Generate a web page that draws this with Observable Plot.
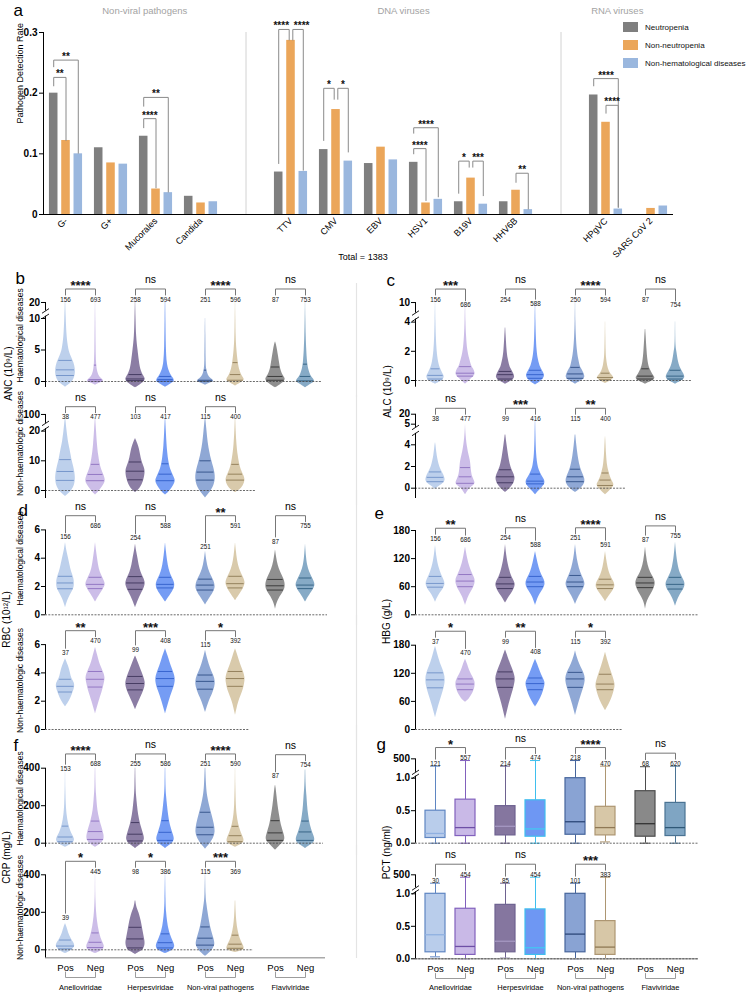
<!DOCTYPE html>
<html>
<head>
<meta charset="utf-8">
<script src="https://cdn.jsdelivr.net/npm/d3@7"></script>
<script src="https://cdn.jsdelivr.net/npm/@observablehq/plot@0.6"></script>
<style>
html,body{margin:0;padding:0;background:#fff;}
#fig{position:relative;width:748px;height:992px;overflow:hidden;background:#fff;font-family:"Liberation Sans",Arial,sans-serif;}
.leg-swatch{height:18px!important;padding:0!important;margin:0!important;display:flex!important;align-items:center!important;}
.leg-swatch svg{margin-right:7px!important;}
</style>
</head>
<body>
<div id="fig"></div>
<script>
// ================= Panel a data =================
const aCategories = ["G-","G+","Mucorales","Candida","TTV","CMV","EBV","HSV1","B19V","HHV6B","HPgVC","SARS CoV 2"];
const aCategoryGroup = [0,0,0,0,1,1,1,1,1,1,2,2];
const aGroupTitles = ["Non-viral pathogens","DNA viruses","RNA viruses"];
const aSeries = ["Neutropenia","Non-neutropenia","Non-hematological diseases"];
const aColors = ["#7f7f7f","#eba65a","#9ab7de"];
const aNeutropenia      = [0.200,0.110,0.129,0.030,0.070,0.107,0.084,0.086,0.021,0.021,0.197,0];
const aNonNeutropenia   = [0.122,0.085,0.042,0.019,0.287,0.173,0.111,0.019,0.060,0.040,0.152,0.010];
const aNonHematological = [0.100,0.083,0.036,0.021,0.071,0.088,0.090,0.025,0.017,0.008,0.009,0.014];
const aYTicks = [0,0.1,0.2,0.3];
const aTotal = 1383;
const aBracketCat  = ["G-","G-","Mucorales","Mucorales","TTV","TTV","CMV","CMV","HSV1","HSV1","B19V","B19V","HHV6B","HPgVC","HPgVC"];
const aBracketPair = [[0,1],[0,2],[0,1],[0,2],[0,1],[1,2],[0,1],[1,2],[0,1],[0,2],[0,1],[1,2],[1,2],[0,2],[1,2]];
const aBracketTop  = [0.226,0.2545,0.158,0.193,0.305,0.305,0.208,0.208,0.1086,0.143,0.088,0.088,0.068,0.224,0.180];
const aBracketEnds = [[0.212,0.122],[0.2435,0.101],[0.143,0.044],[0.1785,0.037],[0.084,0.2876],[0.2876,0.073],[0.122,0.190],[0.190,0.103],[0.100,0.023],[0.134,0.029],[0.035,0.078],[0.078,0.031],[0.053,0.009],[0.212,0.012],[0.167,0.012]];
const aBracketSig  = ["**","**","****","**","****","****","*","*","****","****","*","***","**","****","****"];

// ================= Panels b-g shared =================
const groupNames = ["Anelloviridae","Herpesviridae","Non-viral pathogens","Flaviviridae"];
const statusNames = ["Pos","Neg"];
const violinFill = ["#b9cdeb","#c9b9e7","#85769f","#6e97f3","#89a3d3","#d7c7a7","#898989","#7fa5c3"];
const violinLine = ["#6b8dc5","#8a6cbd","#3b3158","#2e5cc8","#2a4a82","#8a7650","#2e2e2e","#2b5a7d"];
const boxStroke  = ["#5f86c2","#8261bd","#6e6290","#3fbfee","#46659c","#ad9672","#4d4d4d","#4a7393"];
const boxMedian  = ["#8fb0e0","#6e4fa6","#a598c2","#45c6f2","#2c4778","#8f7855","#333333","#2f5877"];

// ---- b: ANC (10^9/L) ----
const ancHaemN = [156,693,258,594,251,596,87,753];
const ancHaemSig = ["****","ns","****","ns"];
const ancHaemLabelAt = [20,20,20,20,20,20,20,20];
const ancHaemQuartiles = [[0.95,1.85,3.35],[0.05,0.3,2.6],[0.15,0.4,1.1],[0.05,0.3,0.8],[0.05,0.2,1.8],[0.2,1.1,3.0],[0.2,0.8,2.3],[0.1,0.8,2.75]];
const ancHaemShape = [
 [[-0.9,0],[-0.5,0.35],[0,0.75],[1,1],[2,1],[3,0.85],[4,0.55],[5,0.32],[7,0.15],[10,0.07],[20,0.02]],
 [[-0.6,0],[-0.2,0.55],[0.1,0.9],[0.5,0.55],[1,0.3],[2,0.15],[3,0.1],[5,0.06],[10,0.03],[20,0.01]],
 [[-1,0],[-0.5,0.5],[0,0.95],[0.5,1],[1,0.75],[2,0.5],[3,0.4],[5,0.25],[7,0.1],[10,0.05],[20,0.015]],
 [[-0.9,0],[-0.4,0.5],[0,0.95],[0.5,0.8],[1,0.55],[2,0.28],[3,0.16],[5,0.08],[10,0.04],[20,0.02]],
 [[-0.6,0],[-0.2,0.6],[0.1,0.9],[0.5,0.5],[1,0.25],[2,0.1],[3,0.06],[8,0.03],[10,0.01]],
 [[-0.7,0],[-0.2,0.6],[0.2,0.9],[0.5,0.85],[1,0.6],[2,0.38],[3,0.27],[5,0.13],[7,0.06],[10,0.03],[20,0.01]],
 [[-1,0],[-0.5,0.5],[0,0.95],[0.5,1],[1,0.72],[2,0.5],[3,0.4],[4,0.3],[5,0.2],[6,0.08],[6.3,0]],
 [[-1,0],[-0.4,0.55],[0,1],[0.5,0.72],[1,0.5],[2,0.3],[3,0.2],[5,0.12],[7,0.07],[10,0.03],[20,0.01]]
];
const ancNonN = [38,477,103,417,115,400];
const ancNonSig = ["ns","ns","ns"];
const ancNonLabelAt = [23,23,23,23,23,23];
const ancNonQuartiles = [[3.4,6.4,10.4],[3.3,5.4,8.8],[3.6,6.5,9.6],[3.3,5.5,9.0],[3.5,6.2,10.0],[3.5,5.5,8.8]];
const ancNonShape = [
 [[-2,0],[-1,0.35],[0,0.65],[2,0.95],[4,1],[6,0.95],[8,0.82],[10,0.66],[12,0.55],[14,0.45],[16,0.3],[20,0.15],[40,0.03]],
 [[-1.5,0],[-0.5,0.3],[1,0.65],[2.5,0.95],[3.5,1],[5,0.88],[7,0.6],[9,0.45],[12,0.3],[15,0.2],[20,0.1],[40,0.02]],
 [[-0.7,0],[0,0.3],[2,0.7],[4,0.88],[6.5,1],[8,0.85],[10,0.62],[12,0.5],[14,0.4],[16,0.2],[17.5,0]],
 [[-1.5,0],[-0.5,0.35],[1,0.7],[2.5,0.95],[3.5,1],[5,0.8],[7,0.5],[10,0.3],[15,0.15],[20,0.08],[40,0.02]],
 [[-2.5,0],[-1,0.35],[0,0.6],[2,0.9],[4,1],[6,0.95],[8,0.8],[10,0.62],[13,0.42],[16,0.26],[20,0.15],[40,0.03]],
 [[-0.7,0],[0,0.4],[1.5,0.8],[3.5,1],[5,0.85],[7,0.55],[9,0.4],[12,0.25],[15,0.15],[20,0.06],[40,0.02]]
];

// ---- c: ALC (10^9/L) ----
const alcHaemN = [156,686,254,588,250,594,87,754];
const alcHaemSig = ["***","ns","****","ns"];
const alcHaemLabelAt = [10,4.3,10,5.8,10,10,10,4.1];
const alcHaemQuartiles = [[0.1,0.35,0.8],[0.3,0.5,0.95],[0.1,0.4,0.62],[0.15,0.4,0.7],[0.15,0.45,0.9],[0.05,0.2,0.5],[0.1,0.3,0.8],[0.1,0.3,0.7]];
const alcHaemShape = [
 [[-0.25,0],[-0.1,0.5],[0.1,0.85],[0.3,0.9],[0.5,0.7],[0.8,0.5],[1.2,0.3],[2,0.15],[3,0.08],[4,0.04],[10,0.01]],
 [[-0.25,0],[0,0.4],[0.3,0.9],[0.5,1],[0.8,0.8],[1,0.6],[1.5,0.4],[2,0.22],[3,0.1],[4,0.04],[10,0.01]],
 [[-0.25,0],[-0.05,0.6],[0.2,1],[0.5,0.8],[0.8,0.55],[1,0.42],[1.5,0.25],[2,0.15],[3,0.07],[3.6,0.02]],
 [[-0.3,0],[-0.05,0.6],[0.3,1],[0.6,0.75],[1,0.42],[1.5,0.26],[2,0.15],[3,0.08],[4,0.04],[10,0.01]],
 [[-0.25,0],[0,0.7],[0.2,1],[0.5,0.85],[0.8,0.6],[1,0.45],[1.5,0.3],[2,0.18],[3,0.08],[4,0.03],[10,0.01]],
 [[-0.2,0],[0,0.6],[0.2,0.9],[0.4,0.6],[0.6,0.38],[1,0.2],[1.5,0.1],[2,0.06],[3,0.03],[4,0.01]],
 [[-0.25,0],[0,0.85],[0.2,1],[0.4,0.72],[0.8,0.42],[1.2,0.26],[2,0.15],[3,0.07],[3.5,0.02]],
 [[-0.25,0],[0,0.75],[0.2,1],[0.5,0.8],[0.8,0.52],[1.2,0.3],[2,0.13],[2.3,0.05],[3,0.02],[4,0.01]]
];
const alcNonN = [38,477,99,416,115,400];
const alcNonSig = ["ns","***","**"];
const alcNonLabelAt = [8.6,8.6,8.6,8.6,8.6,8.6];
const alcNonQuartiles = [[0.6,1.0,1.5],[0.45,1.05,1.9],[0.5,1.05,1.7],[0.4,0.65,1.3],[0.6,1.05,1.75],[0.25,0.75,1.4]];
const alcNonShape = [
 [[-0.1,0],[0.2,0.4],[0.5,0.9],[0.8,1],[1.2,0.85],[1.6,0.6],[2,0.4],[3,0.15],[4,0.05],[4.2,0]],
 [[-0.6,0],[0,0.4],[0.3,0.9],[0.5,1],[1,0.7],[1.5,0.6],[2,0.55],[2.5,0.5],[3,0.36],[3.7,0.2],[4.8,0.05],[5,0]],
 [[-0.4,0],[0,0.5],[0.5,0.9],[1,1],[1.5,0.75],[2,0.5],[3,0.3],[4,0.15],[4.9,0.03]],
 [[-0.6,0],[0,0.6],[0.4,1],[0.8,0.9],[1.2,0.6],[1.6,0.4],[2,0.25],[3,0.1],[4.9,0.04],[12,0.01]],
 [[-0.4,0],[0,0.6],[0.5,1],[1,0.9],[1.5,0.65],[2,0.45],[3,0.25],[4,0.12],[4.9,0.03]],
 [[-0.6,0],[0,0.7],[0.3,0.9],[0.6,0.7],[1,0.5],[1.5,0.35],[2,0.2],[3,0.1],[4.5,0.03],[4.8,0]]
];

// ---- d: RBC (10^12/L) ----
const rbcHaemN = [156,686,254,588,251,591,87,755];
const rbcHaemSig = ["ns","ns","**","ns"];
const rbcHaemLabelAt = [5.27,6.05,5.2,6.05,4.57,6.05,4.97,6.05];
const rbcHaemQuartiles = [[1.84,2.25,2.72],[1.85,2.15,2.65],[1.8,2.25,2.7],[1.9,2.15,2.65],[1.75,2.1,2.52],[1.9,2.2,2.72],[1.75,2.05,2.5],[1.85,2.1,2.6]];
const rbcHaemShape = [
 [[0.5,0],[1.2,0.3],[1.8,0.85],[2.2,0.9],[2.6,0.85],[3,0.6],[3.5,0.45],[4,0.3],[4.6,0.1],[5.1,0]],
 [[0.9,0],[1.5,0.5],[2,0.95],[2.2,1],[2.6,0.75],[3,0.45],[3.5,0.3],[4,0.2],[4.6,0.08],[5.1,0]],
 [[0.5,0],[1,0.25],[1.5,0.6],[2,0.95],[2.3,1],[2.7,0.75],[3,0.55],[3.5,0.35],[4,0.25],[4.5,0.1],[5,0]],
 [[0.9,0],[1.5,0.6],[2,1],[2.4,0.85],[2.8,0.55],[3.2,0.35],[3.8,0.2],[4.5,0.08],[5.1,0]],
 [[0.7,0],[1.2,0.45],[1.7,0.9],[2,1],[2.4,0.85],[2.8,0.55],[3.2,0.3],[3.8,0.12],[4.5,0]],
 [[1,0],[1.5,0.5],[2,0.9],[2.3,1],[2.7,0.75],[3.2,0.4],[3.8,0.2],[4.5,0.08],[5.1,0]],
 [[0.4,0],[1,0.2],[1.5,0.7],[1.9,1],[2.3,0.95],[2.6,0.8],[3,0.5],[3.5,0.25],[4,0.12],[4.6,0]],
 [[0.9,0],[1.5,0.5],[2,1],[2.3,0.9],[2.6,0.7],[3,0.4],[3.5,0.2],[4,0.1],[5,0]]
];
const rbcNonN = [37,470,99,408,115,392];
const rbcNonSig = ["**","***","*"];
const rbcNonLabelAt = [5.21,6.03,5.44,6.03,5.77,6.03];
const rbcNonQuartiles = [[2.65,3.05,3.55],[3.0,3.55,4.1],[2.8,3.25,3.75],[3.05,3.6,4.1],[2.85,3.4,3.85],[3.05,3.6,4.1]];
const rbcNonShape = [
 [[1.6,0],[2,0.4],[2.5,0.7],[3,0.95],[3.3,0.9],[3.6,0.6],[4,0.5],[4.5,0.3],[5,0]],
 [[1.1,0],[2,0.35],[2.7,0.7],[3.2,0.85],[3.6,1],[4,0.85],[4.5,0.5],[5,0.3],[5.8,0]],
 [[1.4,0],[2,0.35],[2.6,0.75],[3,0.95],[3.3,1],[3.7,0.85],[4.2,0.55],[4.7,0.3],[5.2,0]],
 [[1.1,0],[2,0.35],[2.7,0.7],[3.2,0.95],[3.6,1],[4,0.85],[4.5,0.55],[5,0.35],[5.7,0]],
 [[1.2,0],[2,0.35],[2.5,0.7],[3,0.95],[3.4,1],[3.8,0.85],[4.3,0.5],[5,0.2],[5.6,0]],
 [[1,0],[2,0.3],[2.7,0.75],[3.2,0.9],[3.6,1],[4.1,0.8],[4.6,0.5],[5.2,0.25],[5.7,0]]
];

// ---- e: HBG (g/L) ----
const hbgHaemN = [156,686,254,588,251,591,87,755];
const hbgHaemSig = ["**","ns","****","ns"];
const hbgHaemLabelAt = [156,154,157,143,157,143,154,161];
const hbgHaemQuartiles = [[59,67,82],[60,72,86],[56,66,80],[60,70,82],[60,70,84],[56,64,76],[58,68,80],[55,65,80]];
const hbgHaemShape = [
 [[27,0],[45,0.4],[55,0.8],[65,1],[75,0.85],[85,0.6],[100,0.35],[120,0.15],[148,0]],
 [[20,0],[40,0.3],[55,0.75],[65,0.95],[75,1],[85,0.75],[100,0.45],[120,0.2],[145,0]],
 [[25,0],[40,0.4],[50,0.75],[60,0.95],[67,1],[80,0.65],[95,0.4],[120,0.15],[150,0]],
 [[20,0],[40,0.3],[55,0.8],[65,1],[75,0.9],[85,0.6],[100,0.35],[120,0.15],[135,0]],
 [[22,0],[40,0.35],[55,0.8],[65,1],[75,0.85],[90,0.5],[110,0.25],[130,0.1],[150,0]],
 [[28,0],[40,0.35],[52,0.8],[62,1],[72,0.8],[85,0.45],[100,0.25],[120,0.1],[135,0]],
 [[12,0],[30,0.15],[45,0.6],[60,0.95],[70,1],[80,0.8],[90,0.5],[105,0.25],[125,0.1],[145,0]],
 [[18,0],[35,0.25],[50,0.7],[62,1],[72,0.9],[85,0.55],[100,0.3],[125,0.12],[155,0]]
];
const hbgNonN = [37,470,99,408,115,392];
const hbgNonSig = ["*","**","*"];
const hbgNonLabelAt = [181,157,181,159,181,180];
const hbgNonQuartiles = [[89,106,121],[85,97,108],[90,108,123],[85,98,110],[90,108,122],[85,97,118]];
const hbgNonShape = [
 [[25,0],[50,0.3],[70,0.6],[90,0.9],[105,1],[120,0.9],[135,0.6],[150,0.35],[178,0]],
 [[58,0],[65,0.4],[80,0.8],[90,0.95],[100,1],[110,0.8],[125,0.4],[140,0.2],[150,0]],
 [[22,0],[45,0.25],[65,0.5],[85,0.8],[100,0.95],[110,1],[125,0.8],[140,0.5],[155,0.25],[170,0]],
 [[48,0],[60,0.35],[75,0.7],[90,0.9],[100,1],[110,0.75],[125,0.45],[140,0.2],[150,0]],
 [[30,0],[55,0.3],[75,0.6],[90,0.85],[105,1],[115,0.95],[125,0.75],[140,0.4],[155,0.15],[168,0]],
 [[40,0],[55,0.4],[70,0.7],[85,0.9],[95,1],[110,0.8],[125,0.55],[145,0.25],[165,0]]
];

// ---- f: CRP (mg/L) ----
const crpHaemN = [153,688,255,586,251,590,87,754];
const crpHaemSig = ["****","ns","****","ns"];
const crpHaemLabelAt = [381,404,404,404,404,404,341,400];
const crpHaemQuartiles = [[8,33,91],[20,62,118],[12,48,110],[15,58,120],[45,85,165],[8,40,90],[15,55,120],[15,60,118]];
const crpHaemShape = [
 [[-22,0],[-8,0.5],[0,0.75],[20,1],[50,0.6],[100,0.3],[150,0.15],[200,0.08],[280,0.03],[380,0.01]],
 [[-22,0],[-8,0.4],[0,0.6],[20,0.9],[50,0.85],[100,0.55],[150,0.3],[200,0.18],[260,0.1],[300,0.05],[400,0.02]],
 [[-28,0],[-10,0.45],[0,0.7],[20,0.95],[50,0.8],[100,0.5],[150,0.3],[200,0.2],[250,0.1],[300,0.05],[400,0.02]],
 [[-28,0],[-10,0.45],[0,0.7],[20,0.95],[50,0.75],[100,0.45],[150,0.3],[200,0.2],[250,0.1],[300,0.04],[400,0.02]],
 [[-32,0],[-12,0.3],[0,0.5],[30,0.85],[60,1],[100,0.9],[150,0.65],[200,0.4],[250,0.2],[300,0.1],[400,0.03]],
 [[-22,0],[-8,0.5],[0,0.8],[20,0.9],[50,0.6],[100,0.3],[150,0.15],[200,0.08],[300,0.03],[400,0.01]],
 [[-38,0],[-15,0.4],[0,0.7],[20,1],[50,0.85],[100,0.55],[150,0.4],[200,0.25],[250,0.15],[300,0.05],[310,0]],
 [[-28,0],[-10,0.5],[0,0.8],[20,1],[50,0.75],[100,0.45],[150,0.3],[200,0.2],[250,0.15],[300,0.06],[390,0.02]]
];
const crpNonN = [39,445,98,386,115,369];
const crpNonSig = ["*","*","***"];
const crpNonLabelAt = [155,400,400,400,400,400];
const crpNonQuartiles = [[5,20,52],[12,40,90],[10,58,120],[10,38,85],[25,62,122],[8,30,78]];
const crpNonShape = [
 [[-20,0],[-8,0.45],[0,0.7],[20,1],[40,0.8],[60,0.55],[90,0.3],[120,0.15],[140,0]],
 [[-20,0],[-8,0.5],[0,0.8],[20,0.95],[50,0.6],[100,0.35],[150,0.2],[200,0.1],[260,0.05],[300,0.02],[400,0.01]],
 [[-25,0],[-10,0.5],[0,0.8],[30,1],[60,0.9],[100,0.75],[150,0.6],[200,0.35],[230,0.1],[260,0.03]],
 [[-20,0],[-8,0.5],[0,0.8],[20,1],[50,0.7],[100,0.35],[150,0.2],[200,0.1],[250,0.05],[400,0.01]],
 [[-35,0],[-15,0.45],[0,0.7],[25,1],[60,0.85],[100,0.6],[150,0.4],[200,0.25],[250,0.12],[280,0.05],[400,0.01]],
 [[-15,0],[-5,0.6],[0,0.9],[20,0.85],[50,0.5],[100,0.25],[150,0.12],[200,0.06],[260,0.02]]
];

// ---- g: PCT (ng/ml) box plots: [min, q1, median, q3, max] ----
const pctHaemN = [121,557,214,474,218,470,68,620];
const pctHaemSig = ["*","ns","****","ns"];
const pctHaemBox = [[0,0.08,0.15,0.5,211],[0,0.11,0.24,0.67,433],[0,0.12,0.26,0.57,211],[0,0.1,0.22,0.66,433],[0,0.13,0.33,1.0,433],[0.02,0.12,0.24,0.56,211],[0,0.1,0.3,0.8,190],[0,0.11,0.24,0.62,211]];
const pctNonN = [30,454,85,454,101,383];
const pctNonSig = ["ns","ns","***"];
const pctNonBox = [[0.03,0.1,0.37,1.0,170],[0,0.06,0.19,0.77,406],[0.01,0.1,0.27,0.83,170],[0,0.06,0.17,0.76,406],[0,0.1,0.38,1.0,170],[0,0.06,0.18,0.58,406]];

// ================= Rendering =================
const FONT = '"Liberation Sans", Arial, Helvetica, sans-serif';
const STYLE = `font-family:${FONT};font-size:10px;background:none;overflow:visible;color:#000;`;
const fig = document.getElementById("fig");
function place(el, left, top) {
  el.style.position = "absolute";
  el.style.left = left + "px";
  el.style.top = top + "px";
  fig.appendChild(el);
}

// ---------- Panel a ----------
(function panelA() {
  const slot = i => i + aCategoryGroup[i];
  const center = i => slot(i) + 0.5;
  const step = 0.273, half = 0.095;
  const seriesVals = [aNeutropenia, aNonNeutropenia, aNonHematological];
  const bars = seriesVals.flatMap((vals, j) => vals.map((v, i) => ({x: center(i) + (j - 1) * step, v, fill: aColors[j]})));
  const idx = new Map(aCategories.map((c, i) => [c, i]));
  const pts = [], lbl = [];
  aBracketCat.forEach((c, b) => {
    const i = idx.get(c);
    const [s1, s2] = aBracketPair[b];
    const has = (p, q) => aBracketCat.some((c2, b2) => c2 === c && aBracketPair[b2][0] === p && aBracketPair[b2][1] === q);
    let x1 = center(i) + (s1 - 1) * step, x2 = center(i) + (s2 - 1) * step;
    let shift = 0;
    if (s1 === 0 && s2 === 1 && has(1, 2)) { x2 -= 0.04; if (aBracketSig[b].length > 3) shift = -0.06; }
    if (s1 === 1 && s2 === 2 && has(0, 1)) { x1 += 0.04; if (aBracketSig[b].length > 3) shift = 0.08; }
    const top = aBracketTop[b], [e1, e2] = aBracketEnds[b];
    pts.push({b, x: x1, y: e1}, {b, x: x1, y: top}, {b, x: x2, y: top}, {b, x: x2, y: e2});
    lbl.push({x: (x1 + x2) / 2 + shift, y: top, text: aBracketSig[b]});
  });
  const tickPos = aCategories.map((c, i) => center(i));
  const tickName = new Map(tickPos.map((p, i) => [p, aCategories[i]]));
  const dividers = [1, 2].map(g => slot(aCategoryGroup.indexOf(g)) - 0.5);
  const spans = [[0, dividers[0]], [dividers[0], dividers[1]], [dividers[1], 14]];
  const titleX = spans.map(([a, b]) => (a + b) / 2);
  const svg = Plot.plot({
    width: 748, height: 265,
    marginTop: 32, marginBottom: 51, marginLeft: 43, marginRight: 75,
    style: STYLE,
    x: {domain: [0, 14], axis: null},
    y: {domain: [0, 0.3], axis: null},
    color: {type: "identity"},
    marks: [
      Plot.ruleX(dividers, {y1: 0, y2: 0.3, stroke: "#d2d2d2", strokeWidth: 1}),
      Plot.rect(bars, {x1: d => d.x - half, x2: d => d.x + half, y1: 0, y2: "v", fill: "fill"}),
      Plot.line(pts, {x: "x", y: "y", z: "b", stroke: "#8a8a8a", strokeWidth: 1}),
      Plot.text(lbl, {x: "x", y: "y", text: "text", lineAnchor: "bottom", fontSize: 10, fontWeight: "bold", fill: "#111"}),
      Plot.ruleX([0], {y1: 0, y2: 0.3, stroke: "#000"}),
      Plot.ruleY([0], {x1: 0, x2: 14, stroke: "#000"}),
      Plot.axisY({ticks: aYTicks, tickFormat: d => d === 0 ? "0" : d.toFixed(1), tickSize: 4, tickPadding: 2, fontSize: 10, fontWeight: "bold", label: null}),
      Plot.axisX({ticks: tickPos, tickFormat: p => tickName.get(p), tickRotate: -45, tickSize: 0, tickPadding: 5, fontSize: 9, label: null}),
      Plot.text(aGroupTitles, {x: (d, i) => titleX[i], text: d => d, frameAnchor: "top", dy: -25, fill: "#a3a3a3", fontSize: 9.5}),
      Plot.text([`Total = ${aTotal}`], {x: 7.1, text: d => d, frameAnchor: "bottom", dy: 45, fontSize: 9}),
      Plot.text(["Pathogen Detection Rate"], {text: d => d, frameAnchor: "left", dx: -23, rotate: -90, fontSize: 9}),
      Plot.text(["a"], {text: d => d, frameAnchor: "top-left", dx: -30, dy: -17, lineAnchor: "bottom", textAnchor: "start", fontSize: 17})
    ]
  });
  place(svg, 0, 0);
  const leg = Plot.legend({
    color: {type: "ordinal", domain: aSeries, range: aColors},
    columns: 1, swatchWidth: 15, swatchHeight: 10, className: "leg",
    style: {fontFamily: FONT, fontSize: "8px", color: "#111", margin: "0"}
  });
  leg.style.width = "130px";
  place(leg, 623, 18);
})();

// ---------- rows b-g ----------
function widthAt(pts, v, T) {
  const t = T(v);
  for (let j = 1; j < pts.length; j++) {
    const t0 = T(pts[j - 1][0]), t1 = T(pts[j][0]);
    if (t <= t1) {
      const f = t1 === t0 ? 0 : (t - t0) / (t1 - t0);
      return pts[j - 1][1] + Math.max(0, f) * (pts[j][1] - pts[j - 1][1]);
    }
  }
  return 0;
}

function makeRow(cfg) {
  const {left, top, height, p0, k, T} = cfg;
  const width = left === 0 ? 356 : 378;
  const tOf = px => (p0 - px) / k;
  const pxOf = t => p0 - k * t;
  const xOf = px => (px - left - 45) / 10 - 2;
  const cx = i => Math.floor(i / 2) * 7 + (i % 2) * 3;
  const marks = [];
  if (cfg.sep) marks.push(Plot.ruleX([xOf(356)], {y1: tOf(cfg.sep[0]), y2: tOf(cfg.sep[1]), stroke: "#e4e4e4", strokeWidth: 1.2}));
  if (cfg.shapes) {
    const area = cfg.shapes.flatMap((p, i) => p.map(([v, w]) => ({i, t: T(v), x1: cx(i) - w, x2: cx(i) + w, fill: violinFill[i]})));
    marks.push(Plot.areaX(area, {y: "t", x1: "x1", x2: "x2", z: "i", fill: "fill", fillOpacity: 0.95, curve: "basis"}));
    const q = cfg.quart.flatMap((qs, i) => qs.map(v => {
      const w = widthAt(cfg.shapes[i], v, T) * 0.9;
      return {t: T(v), x1: cx(i) - w, x2: cx(i) + w, stroke: violinLine[i]};
    }));
    marks.push(Plot.ruleY(q, {y: "t", x1: "x1", x2: "x2", stroke: "stroke", strokeWidth: 1, strokeOpacity: 0.85}));
  }
  if (cfg.boxes) {
    const bx = cfg.boxes.map(([mn, q1, md, q3, mx], i) => ({i, x: cx(i), mn: T(mn), q1: T(q1), md: T(md), q3: T(q3), mx: T(mx)}));
    const st = d => boxStroke[d.i];
    marks.push(
      Plot.ruleX(bx, {x: "x", y1: "mn", y2: "q1", stroke: st, strokeWidth: 1}),
      Plot.ruleX(bx, {x: "x", y1: "q3", y2: "mx", stroke: st, strokeWidth: 1}),
      Plot.ruleY(bx, {y: "mx", x1: d => d.x - 0.5, x2: d => d.x + 0.5, stroke: st, strokeWidth: 1}),
      Plot.ruleY(bx, {y: "mn", x1: d => d.x - 0.5, x2: d => d.x + 0.5, stroke: st, strokeWidth: 1}),
      Plot.rect(bx, {x1: d => d.x - 1, x2: d => d.x + 1, y1: "q1", y2: "q3", fill: d => violinFill[d.i], stroke: st, strokeWidth: 1.2}),
      Plot.ruleY(bx, {y: "md", x1: d => d.x - 1, x2: d => d.x + 1, stroke: d => boxMedian[d.i], strokeWidth: 1.3})
    );
  }
  if (cfg.xAxis) {
    const xa = cfg.xAxis;
    marks.push(Plot.ruleY([tOf(xa.axis)], {x1: -2, x2: xOf(xa.end), stroke: "#a9a9a9", strokeWidth: 1.5}));
    const xs = d3.range(8).map(i => ({x: cx(i), s: statusNames[i % 2]}));
    marks.push(Plot.text(xs, {x: "x", y: tOf(xa.label), text: "s", fontSize: 9.5}));
    const gb = groupNames.flatMap((g, j) => [
      {j, x: cx(2 * j), t: tOf(xa.b1)}, {j, x: cx(2 * j), t: tOf(xa.b2)},
      {j, x: cx(2 * j + 1), t: tOf(xa.b2)}, {j, x: cx(2 * j + 1), t: tOf(xa.b1)}]);
    marks.push(Plot.line(gb, {x: "x", y: "t", z: "j", stroke: "#9c9c9c", strokeWidth: 1}));
    marks.push(Plot.text(groupNames, {x: (d, j) => cx(2 * j) + 1.5, y: tOf(xa.name), text: d => d, fontSize: 7.5}));
  }
  marks.push(Plot.ruleY([0], {x1: -2, x2: cfg.xEnd, stroke: "#444", strokeWidth: 0.8, strokeDasharray: "2,1.3"}));
  marks.push(Plot.ruleX(cfg.segs, {x: -2, y1: d => d[0], y2: d => d[1], stroke: "#000", strokeWidth: 1}));
  if (cfg.breaks.length) marks.push(Plot.link(cfg.breaks, {x1: -2.35, x2: -1.65, y1: d => d - 2.3 / k, y2: d => d + 2.3 / k, stroke: "#000", strokeWidth: 0.9}));
  const fmt = cfg.tickFmt || (v => String(v));
  const tickLab = new Map(cfg.ticks.map(v => [T(v), fmt(v)]));
  marks.push(Plot.axisY({ticks: cfg.ticks.map(T), tickFormat: t => tickLab.get(t), tickSize: 4, tickPadding: 1.5, fontSize: 10, fontWeight: "bold", label: null}));
  const nLab = cfg.n.map((n, i) => {
    const px = cfg.boxes ? pxOf(T(cfg.boxes[i][4])) - 2.5 : pxOf(T(cfg.labelAt[i])) - 3;
    return {i, x: cx(i), px, text: String(n)};
  });
  marks.push(Plot.text(nLab, {x: "x", y: d => tOf(d.px), text: "text", fontSize: 6.3, fill: "#111"}));
  const br = [], sg = [];
  cfg.sig.forEach((s, g) => {
    const L = nLab[2 * g], R = nLab[2 * g + 1];
    const bpx = Math.min(L.px, R.px) - 10.5;
    br.push({g, x: L.x, t: tOf(L.px - 4.5)}, {g, x: L.x, t: tOf(bpx)}, {g, x: R.x, t: tOf(bpx)}, {g, x: R.x, t: tOf(R.px - 4.5)});
    sg.push({x: (L.x + R.x) / 2, t: tOf(bpx), s});
  });
  marks.push(Plot.line(br, {x: "x", y: "t", z: "g", stroke: "#777", strokeWidth: 1}));
  marks.push(Plot.text(sg.filter(d => d.s !== "ns"), {x: "x", y: "t", text: "s", lineAnchor: "bottom", dy: 1, fontSize: 13, fontWeight: "bold", fill: "#111"}));
  marks.push(Plot.text(sg.filter(d => d.s === "ns"), {x: "x", y: "t", text: "s", lineAnchor: "bottom", dy: -6, fontSize: 10.5}));
  if (cfg.rowTitle) marks.push(Plot.text([cfg.rowTitle], {x: xOf(left + 20), y: tOf(cfg.rowTitleAt), text: d => d, rotate: -90, fontSize: 8.5}));
  if (cfg.yTitle) marks.push(Plot.text([cfg.yTitle], {x: xOf(cfg.yTitleX), y: tOf(cfg.yTitleAt), text: d => d, rotate: -90, fontSize: 10}));
  if (cfg.letter) marks.push(Plot.text([cfg.letter], {x: xOf(cfg.letterAt[0]), y: tOf(cfg.letterAt[1]), text: d => d, textAnchor: "start", lineAnchor: "bottom", fontSize: 17}));
  const svg = Plot.plot({
    width, height,
    marginLeft: 45, marginRight: width - 322, marginTop: 0, marginBottom: 0,
    style: STYLE,
    x: {domain: [-2, 25.7], axis: null},
    y: {domain: [tOf(top + height), tOf(top)], axis: null},
    color: {type: "identity"},
    marks
  });
  place(svg, left, top);
}

const lin = v => v;
const rows = [
  {left: 0, top: 262, height: 135, p0: 381, k: 6.3, T: v => v <= 10 ? v : 11.43 + (v - 10) * 0.111,
   ticks: [0, 5, 10, 20], segs: [[-0.95, 10.35], [11.2, 12.54]], breaks: [10.35, 11.2],
   shapes: ancHaemShape, quart: ancHaemQuartiles, n: ancHaemN, labelAt: ancHaemLabelAt, sig: ancHaemSig, xEnd: 25.7,
   rowTitle: "Haematological diseases", rowTitleAt: 335, yTitle: "ANC (10⁹/L)", yTitleX: 8, yTitleAt: 373,
   letter: "b", letterAt: [15, 283], sep: [283, 397]},
  {left: 0, top: 385, height: 120, p0: 490, k: 2.97, T: v => v <= 20 ? v : 23.6 + (v - 20) * 0.025,
   ticks: [0, 10, 20, 100], segs: [[-2.7, 20.8], [22.6, 25.6]], breaks: [20.8, 22.6],
   shapes: ancNonShape, quart: ancNonQuartiles, n: ancNonN, labelAt: ancNonLabelAt, sig: ancNonSig, xEnd: 19,
   rowTitle: "Non-haematologic diseases", rowTitleAt: 443, sep: [395, 505]},
  {left: 370, top: 262, height: 135, p0: 380, k: 14.6, T: v => v <= 4 ? v : 4.93 + (v - 4) * 0.0683,
   ticks: [0, 2, 4, 10], segs: [[-0.46, 4.2], [4.62, 5.34]], breaks: [4.2, 4.62],
   shapes: alcHaemShape, quart: alcHaemQuartiles, n: alcHaemN, labelAt: alcHaemLabelAt, sig: alcHaemSig, xEnd: 25.7,
   yTitle: "ALC (10⁹/L)", yTitleX: 387, yTitleAt: 391, letter: "c", letterAt: [386, 285]},
  {left: 370, top: 385, height: 115, p0: 487.7, k: 10.85, T: v => v < 5 ? v : 5.9 + (v - 5) * 0.0613,
   ticks: [0, 2, 4, 5, 20], segs: [[-0.95, 5.05], [5.6, 6.82]], breaks: [5.05, 5.6],
   shapes: alcNonShape, quart: alcNonQuartiles, n: alcNonN, labelAt: alcNonLabelAt, sig: alcNonSig, xEnd: 19},
  {left: 0, top: 490, height: 135, p0: 614.3, k: 14.15, T: lin,
   ticks: [0, 2, 4, 6], segs: [[0, 6]], breaks: [],
   shapes: rbcHaemShape, quart: rbcHaemQuartiles, n: rbcHaemN, labelAt: rbcHaemLabelAt, sig: rbcHaemSig, xEnd: 26.2,
   rowTitle: "Haematological diseases", rowTitleAt: 558, yTitle: "RBC (10¹²/L)", yTitleX: 6, yTitleAt: 619,
   letter: "d", letterAt: [18, 515], sep: [490, 625]},
  {left: 0, top: 615, height: 125, p0: 729, k: 14.15, T: lin,
   ticks: [0, 2, 4, 6], segs: [[0, 6]], breaks: [],
   shapes: rbcNonShape, quart: rbcNonQuartiles, n: rbcNonN, labelAt: rbcNonLabelAt, sig: rbcNonSig, xEnd: 18.4,
   rowTitle: "Non-haematologic diseases", rowTitleAt: 680, sep: [615, 740]},
  {left: 370, top: 490, height: 135, p0: 614.3, k: 0.4683, T: lin,
   ticks: [0, 60, 120, 180], segs: [[0, 180]], breaks: [],
   shapes: hbgHaemShape, quart: hbgHaemQuartiles, n: hbgHaemN, labelAt: hbgHaemLabelAt, sig: hbgHaemSig, xEnd: 26.3,
   yTitle: "HBG (g/L)", yTitleX: 386, yTitleAt: 621, letter: "e", letterAt: [374, 518]},
  {left: 370, top: 615, height: 125, p0: 729, k: 0.4683, T: lin,
   ticks: [0, 60, 120, 180], segs: [[0, 180]], breaks: [],
   shapes: hbgNonShape, quart: hbgNonQuartiles, n: hbgNonN, labelAt: hbgNonLabelAt, sig: hbgNonSig, xEnd: 18.7},
  {left: 0, top: 725, height: 130, p0: 842.7, k: 0.1875, T: lin,
   ticks: [0, 200, 400], segs: [[-22, 400]], breaks: [],
   shapes: crpHaemShape, quart: crpHaemQuartiles, n: crpHaemN, labelAt: crpHaemLabelAt, sig: crpHaemSig, xEnd: 25.8,
   rowTitle: "Haematological diseases", rowTitleAt: 798, letter: "f", letterAt: [13, 750], sep: [725, 855]},
  {left: 0, top: 845, height: 147, p0: 949.3, k: 0.1875, T: lin,
   ticks: [0, 200, 400], segs: [[-43, 400]], breaks: [],
   shapes: crpNonShape, quart: crpNonQuartiles, n: crpNonN, labelAt: crpNonLabelAt, sig: crpNonSig, xEnd: 18.8,
   rowTitle: "Non-haematologic diseases", rowTitleAt: 907, yTitle: "CRP (mg/L)", yTitleX: 6, yTitleAt: 857,
   sep: [845, 958], xAxis: {axis: 957.3, end: 325, label: 967, b1: 971.5, b2: 977, name: 987}},
  {left: 370, top: 725, height: 130, p0: 842.7, k: 65, T: v => v <= 1 ? v : 1.103 + (v - 1) / 499 * 0.195,
   ticks: [0, 0.5, 1, 500], tickFmt: v => v === 500 ? "500" : v.toFixed(1), segs: [[0, 1.03], [1.09, 1.298]], breaks: [1.03, 1.09],
   boxes: pctHaemBox, n: pctHaemN, sig: pctHaemSig, xEnd: 26.3,
   yTitle: "PCT (ng/ml)", yTitleX: 386, yTitleAt: 852, letter: "g", letterAt: [376, 749]},
  {left: 370, top: 845, height: 147, p0: 958.3, k: 65, T: v => v <= 1 ? v : 1.097 + (v - 1) / 499 * 0.195,
   ticks: [0, 0.5, 1, 500], tickFmt: v => v === 500 ? "500" : v.toFixed(1), segs: [[0, 1.03], [1.09, 1.292]], breaks: [1.03, 1.09],
   boxes: pctNonBox, n: pctNonN, sig: pctNonSig, xEnd: 26.3,
   xAxis: {axis: 958.3, end: 698, label: 968.5, b1: 973, b2: 978, name: 987.3}}
];
rows.forEach(makeRow);
</script>
</body>
</html>
